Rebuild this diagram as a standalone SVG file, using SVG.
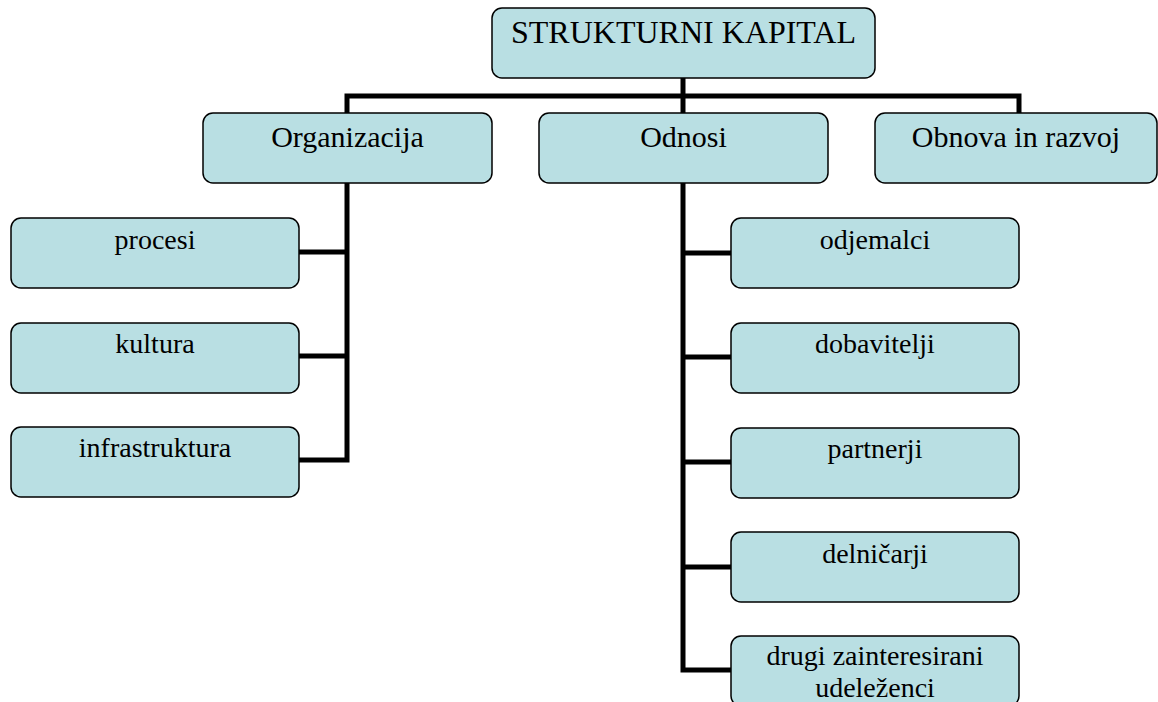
<svg xmlns="http://www.w3.org/2000/svg" width="1158" height="702" viewBox="0 0 1158 702">
<style>
.box{fill:#B9DFE3;stroke:#000;stroke-width:1.5}
.t{font-family:"Liberation Serif","Times New Roman",serif;fill:#000;text-anchor:middle}
.t0{font-size:32px}
.t1{font-size:30px}
.t2{font-size:28px}
.c{fill:none;stroke:#000;stroke-width:5;stroke-linejoin:miter;stroke-linecap:butt}
</style>
<rect width="1158" height="702" fill="#fff"/>
<g id="connectors">
<path class="c" d="M683,78 V113"/>
<path class="c" d="M347,113 V96 H1019 V113"/>
<path class="c" d="M347,183 V460 H299"/>
<path class="c" d="M299,252 H347"/>
<path class="c" d="M299,356 H347"/>
<path class="c" d="M683,183 V670 H731"/>
<path class="c" d="M683,253 H731"/>
<path class="c" d="M683,357 H731"/>
<path class="c" d="M683,462 H731"/>
<path class="c" d="M683,567 H731"/>
</g>
<g id="n-root"><rect class="box" x="492" y="8" width="383" height="70" rx="10"/><text class="t t0" x="683.5" y="43">STRUKTURNI KAPITAL</text></g>
<g id="n-organizacija"><rect class="box" x="203" y="113" width="289" height="70" rx="10"/><text class="t t1" x="347.5" y="147">Organizacija</text></g>
<g id="n-odnosi"><rect class="box" x="539" y="113" width="289" height="70" rx="10"/><text class="t t1" x="683.5" y="147">Odnosi</text></g>
<g id="n-obnova"><rect class="box" x="875" y="113" width="282" height="70" rx="10"/><text class="t t1" x="1016" y="147">Obnova in razvoj</text></g>
<g id="n-procesi"><rect class="box" x="11" y="218" width="288" height="70" rx="10"/><text class="t t2" x="155" y="249">procesi</text></g>
<g id="n-kultura"><rect class="box" x="11" y="323" width="288" height="70" rx="10"/><text class="t t2" x="155" y="353">kultura</text></g>
<g id="n-infrastruktura"><rect class="box" x="11" y="427" width="288" height="70" rx="10"/><text class="t t2" x="155" y="457">infrastruktura</text></g>
<g id="n-odjemalci"><rect class="box" x="731" y="218" width="288" height="70" rx="10"/><text class="t t2" x="875" y="249">odjemalci</text></g>
<g id="n-dobavitelji"><rect class="box" x="731" y="323" width="288" height="70" rx="10"/><text class="t t2" x="875" y="353">dobavitelji</text></g>
<g id="n-partnerji"><rect class="box" x="731" y="428" width="288" height="70" rx="10"/><text class="t t2" x="875" y="458">partnerji</text></g>
<g id="n-delnicarji"><rect class="box" x="731" y="532" width="288" height="70" rx="10"/><text class="t t2" x="875" y="563">delničarji</text></g>
<g id="n-drugi"><rect class="box" x="731" y="636" width="288" height="70" rx="10"/><text class="t t2" x="875" y="665">drugi zainteresirani</text><text class="t t2" x="875" y="697">udeleženci</text></g>
</svg>
